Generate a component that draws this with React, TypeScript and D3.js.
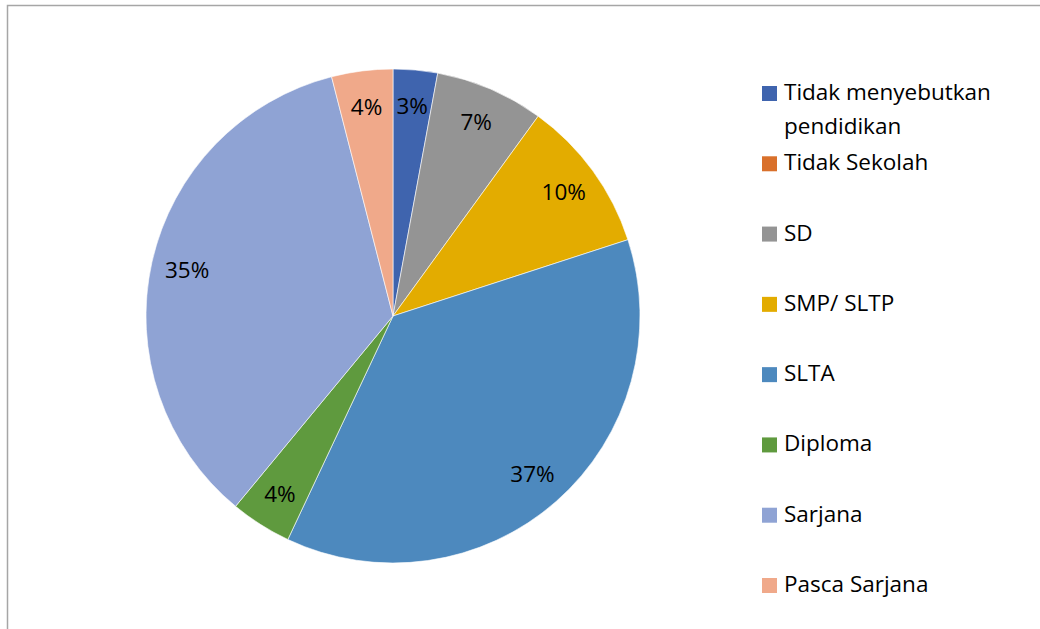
import React from "react";
import * as d3 from "d3";

const categories = [
  "Tidak menyebutkan pendidikan",
  "Tidak Sekolah",
  "SD",
  "SMP/ SLTP",
  "SLTA",
  "Diploma",
  "Sarjana",
  "Pasca Sarjana",
];
const values = [2.9, 0, 7.1, 10.0, 37.0, 4.0, 35.0, 4.0];
const legendLines = [
  ["Tidak menyebutkan", "pendidikan"],
  ["Tidak Sekolah"],
  ["SD"],
  ["SMP/ SLTP"],
  ["SLTA"],
  ["Diploma"],
  ["Sarjana"],
  ["Pasca Sarjana"],
];
const colors = [
  "#3F64AE",
  "#D9702B",
  "#949494",
  "#E3AC00",
  "#4D89BE",
  "#5F9A3E",
  "#8FA3D4",
  "#F0A98A",
];

const W = 1040;
const H = 629;
const cx = 393;
const cy = 316;
const R = 247;
const labelR = 211;
const FONT = "'Open Sans', 'Noto Sans', sans-serif";
const FS = 22.5;

export default function App() {
  const pie = d3
    .pie<number>()
    .sort(null)
    .value((d) => d)(values);
  const arc = d3.arc<d3.PieArcDatum<number>>().innerRadius(0).outerRadius(R);
  const labelArc = d3
    .arc<d3.PieArcDatum<number>>()
    .innerRadius(labelR)
    .outerRadius(labelR);
  const total = d3.sum(values);
  const legendY = d3
    .scaleLinear()
    .domain([0, categories.length - 1])
    .range([93, 585]);

  return (
    <svg
      width={W}
      height={H}
      style={{ position: "absolute", left: 0, top: 0, display: "block", background: "#fff" }}
    >
      <rect x={7.5} y={5.5} width={W + 10} height={H + 10} fill="#fff" stroke="#a6a6a6" strokeWidth={1.5} />
      <g transform={`translate(${cx},${cy})`}>
        {pie.map((p, i) =>
          p.value > 0 ? (
            <path key={i} d={arc(p) || ""} fill={colors[i]} stroke="#fff" strokeWidth={0.6} />
          ) : null
        )}
        {pie.map((p, i) => {
          if (p.value <= 0) return null;
          const [x, y] = labelArc.centroid(p);
          return (
            <text
              key={"l" + i}
              x={x}
              y={y}
              dy="0.36em"
              textAnchor="middle"
              fontFamily={FONT}
              fontSize={FS}
              fill="#000"
            >
              {Math.round((p.value / total) * 100)}%
            </text>
          );
        })}
      </g>
      <g>
        {categories.map((c, i) => {
          const y = legendY(i);
          return (
            <g key={c}>
              <rect x={762} y={y - 7} width={15} height={15} fill={colors[i]} />
              {legendLines[i].map((ln, j) => (
                <text
                  key={j}
                  x={784}
                  y={y + 7 + j * 34}
                  fontFamily={FONT}
                  fontSize={FS}
                  fill="#000"
                >
                  {ln}
                </text>
              ))}
            </g>
          );
        })}
      </g>
    </svg>
  );
}
